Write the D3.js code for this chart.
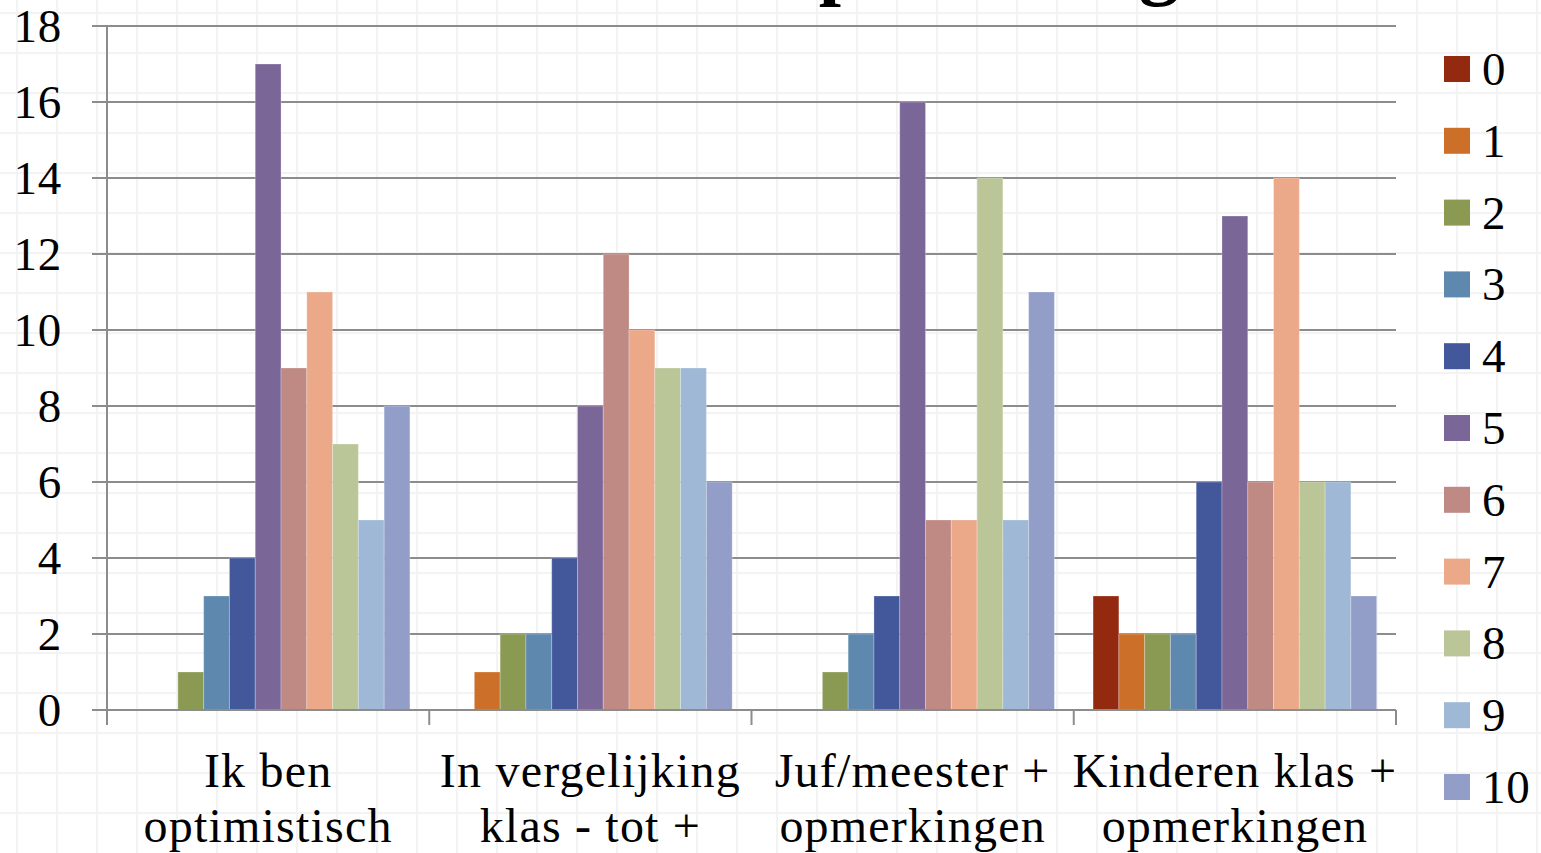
<!DOCTYPE html>
<html>
<head>
<meta charset="utf-8">
<script src="https://cdn.jsdelivr.net/npm/d3@7"></script>
<style>
  html, body { margin: 0; padding: 0; background: #ffffff; }
  svg { display: block; }
  text { font-family: "Liberation Serif", "DejaVu Serif", serif; fill: #000; }
</style>
</head>
<body>
<svg id="chart" width="1541" height="853"></svg>
<script>
// Survey answers: number of pupils per score (0–10) for each statement
const categories = [
  ["Ik ben", "optimistisch"],
  ["In vergelijking", "klas - tot +"],
  ["Juf/meester +", "opmerkingen"],
  ["Kinderen klas +", "opmerkingen"]
];
const seriesNames = ["0", "1", "2", "3", "4", "5", "6", "7", "8", "9", "10"];
const seriesColors = ["#93290f", "#cc7029", "#8a9a52", "#5e88ae", "#43589b", "#7b6797",
                      "#bf8984", "#eba98a", "#bac698", "#9eb8d5", "#939ec8"];
// values[category][score]
const values = [
  [0, 0, 1, 3, 4, 17, 9, 11, 7, 5, 8],
  [0, 1, 2, 2, 4, 8, 12, 10, 9, 9, 6],
  [0, 0, 1, 2, 3, 16, 5, 5, 14, 5, 11],
  [3, 2, 2, 2, 6, 13, 6, 14, 6, 6, 3]
];
const yTicks = [0, 2, 4, 6, 8, 10, 12, 14, 16, 18];
const titleText = "Groepsbeleving";

const W = 1541, H = 853;
const svg = d3.select("#chart");

// faint sheet grid behind the chart
const bg = svg.append("g").attr("stroke", "#f3f3f3").attr("stroke-width", 2);
bg.selectAll("line.v").data(d3.range(17, W, 40)).join("line")
  .attr("x1", d => d).attr("x2", d => d).attr("y1", 0).attr("y2", H);
bg.selectAll("line.h").data(d3.range(13, H, 40)).join("line")
  .attr("x1", 0).attr("x2", W).attr("y1", d => d).attr("y2", d => d);

// title, mostly above the visible area
svg.append("text")
  .attr("x", 647).attr("y", -10)
  .attr("font-size", 80).attr("font-weight", "bold")
  .text(titleText);

const plot = { left: 107, right: 1396, top: 26, bottom: 710 };

const x0 = d3.scaleBand()
  .domain(d3.range(categories.length))
  .range([plot.left, plot.right])
  .paddingInner(0).paddingOuter(0);

// 11 bars per group with a 150% gap split across both sides
const bw = x0.bandwidth() / 12.5;
const x1 = d3.scaleBand()
  .domain(seriesNames)
  .range([0.75 * bw, x0.bandwidth() - 0.75 * bw])
  .padding(0);

const y = d3.scaleLinear().domain([0, 18]).range([plot.bottom, plot.top]);

// horizontal gridlines with outer tick stubs
svg.append("g").selectAll("line").data(yTicks).join("line")
  .attr("x1", plot.left - 15).attr("x2", plot.right)
  .attr("y1", d => y(d)).attr("y2", d => y(d))
  .attr("stroke", "#8c8c8c").attr("stroke-width", 2);

// y tick labels
svg.append("g").selectAll("text").data(yTicks).join("text")
  .attr("x", 62).attr("y", d => y(d))
  .attr("dy", "0.34em")
  .attr("text-anchor", "end")
  .attr("font-size", 47)
  .attr("letter-spacing", 0.8)
  .text(d => d);

// bars
const groups = svg.append("g").selectAll("g").data(values).join("g")
  .attr("transform", (d, i) => `translate(${x0(i)},0)`);
groups.selectAll("rect")
  .data(d => d.map((v, j) => ({ v, j })).filter(e => e.v > 0))
  .join("rect")
  .attr("x", e => x1(seriesNames[e.j]))
  .attr("width", x1.bandwidth())
  .attr("y", e => y(e.v))
  .attr("height", e => y(0) - y(e.v))
  .attr("fill", e => seriesColors[e.j])
  .attr("stroke", "rgba(255,255,255,0.25)")
  .attr("stroke-width", 1);

// axes lines
svg.append("line")
  .attr("x1", plot.left).attr("x2", plot.left)
  .attr("y1", plot.top).attr("y2", plot.bottom + 15)
  .attr("stroke", "#8c8c8c").attr("stroke-width", 2);
svg.append("line")
  .attr("x1", plot.left).attr("x2", plot.right)
  .attr("y1", plot.bottom).attr("y2", plot.bottom)
  .attr("stroke", "#8c8c8c").attr("stroke-width", 2);
// category boundary ticks
svg.append("g").selectAll("line")
  .data(d3.range(categories.length + 1))
  .join("line")
  .attr("x1", i => plot.left + i * x0.bandwidth())
  .attr("x2", i => plot.left + i * x0.bandwidth())
  .attr("y1", plot.bottom).attr("y2", plot.bottom + 15)
  .attr("stroke", "#8c8c8c").attr("stroke-width", 2);

// category labels (two lines each)
const catLabels = svg.append("g").selectAll("text").data(categories).join("text")
  .attr("text-anchor", "middle")
  .attr("font-size", 48)
  .attr("letter-spacing", 1.2);
catLabels.selectAll("tspan").data((d, i) => d.map(t => ({ t, i }))).join("tspan")
  .attr("x", e => x0(e.i) + x0.bandwidth() / 2)
  .attr("y", (e, k) => 787 + k * 55)
  .text(e => e.t);

// legend
const legend = svg.append("g").selectAll("g").data(seriesNames).join("g")
  .attr("transform", (d, i) => `translate(1444, ${69 + i * 71.8})`);
legend.append("rect")
  .attr("x", 0).attr("y", -13).attr("width", 26).attr("height", 26)
  .attr("fill", (d, i) => seriesColors[i]);
legend.append("text")
  .attr("x", 38).attr("y", 0).attr("dy", "0.34em")
  .attr("font-size", 47)
  .attr("letter-spacing", 0.8)
  .text(d => d);
</script>
</body>
</html>
